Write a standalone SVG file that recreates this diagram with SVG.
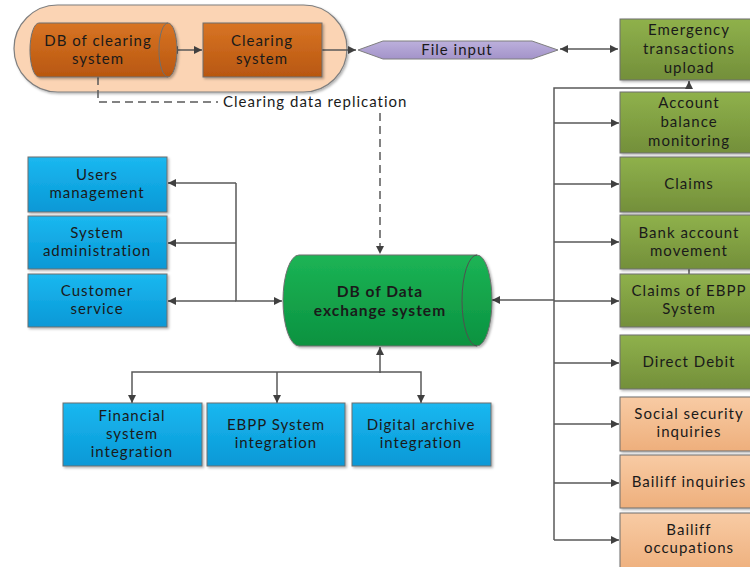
<svg xmlns="http://www.w3.org/2000/svg" width="750" height="567" viewBox="0 0 750 567">
<defs>
<linearGradient id="gBlue" x1="0" y1="0" x2="0" y2="1"><stop offset="0" stop-color="#1bb8f0"/><stop offset="1" stop-color="#0898d6"/></linearGradient>
<linearGradient id="gGreen" x1="0" y1="0" x2="0" y2="1"><stop offset="0" stop-color="#8fb14b"/><stop offset="1" stop-color="#738f3a"/></linearGradient>
<linearGradient id="gPeach" x1="0" y1="0" x2="0" y2="1"><stop offset="0" stop-color="#f8cba4"/><stop offset="1" stop-color="#eeaf7c"/></linearGradient>
<linearGradient id="gOrange" x1="0" y1="0" x2="0" y2="1"><stop offset="0" stop-color="#d87424"/><stop offset="1" stop-color="#b85710"/></linearGradient>
<linearGradient id="gDB" x1="0" y1="0" x2="0" y2="1"><stop offset="0" stop-color="#1cb455"/><stop offset="1" stop-color="#0b9240"/></linearGradient>
<linearGradient id="gPurple" x1="0" y1="0" x2="0" y2="1"><stop offset="0" stop-color="#bcb0dc"/><stop offset="1" stop-color="#a393c9"/></linearGradient>
<filter id="sh" x="-10%" y="-10%" width="130%" height="130%"><feDropShadow dx="1.5" dy="1.5" stdDeviation="1" flood-color="#000" flood-opacity="0.3"/></filter>
<marker id="ah" viewBox="0 0 10 10" refX="10" refY="5" markerWidth="9" markerHeight="8" markerUnits="userSpaceOnUse" orient="auto-start-reverse"><path d="M0,0 L10,5 L0,10 Z" fill="#404040"/></marker>
</defs>
<style>
.box{stroke:#6f6f6f;stroke-width:1;filter:url(#sh)}
.blue{fill:url(#gBlue)}
.green{fill:url(#gGreen)}
.peach{fill:url(#gPeach)}
.t{font-family:Lato,"Liberation Sans",sans-serif;font-size:15px;fill:#1a1a1a;text-anchor:middle;letter-spacing:1px}
.b{font-weight:bold;font-size:15.5px}
.c{fill:none;stroke:#595959;stroke-width:1.5}
.d{fill:none;stroke:#595959;stroke-width:1.5;stroke-dasharray:8,5}
</style>

<g id="clearing-group">
<rect x="14" y="5" width="333" height="87" rx="43.5" fill="#fbd4b4" stroke="#7f7f7f" stroke-width="1.2" filter="url(#sh)"/>
</g>

<g id="connectors">
<path class="c" d="M170,50 H202" marker-start="url(#ah)" marker-end="url(#ah)"/>
<path class="c" d="M322,50 H356" marker-end="url(#ah)"/>
<path class="c" d="M560,49 H618" marker-start="url(#ah)" marker-end="url(#ah)"/>
<path class="d" d="M98,77 V102 H218"/>
<path class="d" d="M380,113 V254" marker-end="url(#ah)"/>
<path class="c" d="M554,540 V88 H689 V81" marker-end="url(#ah)"/>
<path class="c" d="M554,123 H619" marker-end="url(#ah)"/>
<path class="c" d="M554,184 H619" marker-end="url(#ah)"/>
<path class="c" d="M554,242 H619" marker-end="url(#ah)"/>
<path class="c" d="M554,301 H619" marker-end="url(#ah)"/>
<path class="c" d="M554,363 H619" marker-end="url(#ah)"/>
<path class="c" d="M554,424 H619" marker-end="url(#ah)"/>
<path class="c" d="M554,483 H619" marker-end="url(#ah)"/>
<path class="c" d="M554,540 H619" marker-end="url(#ah)"/>
<path class="c" d="M689,269 V274"/>
<path class="c" d="M554,300 H478" marker-end="url(#ah)"/>
<path class="c" d="M500,300 H492" marker-end="url(#ah)"/>
<path class="c" d="M236,183 V301 H282" marker-end="url(#ah)"/>
<path class="c" d="M236,183 H168" marker-end="url(#ah)"/>
<path class="c" d="M236,243 H168" marker-end="url(#ah)"/>
<path class="c" d="M236,301 H168" marker-end="url(#ah)"/>
<path class="c" d="M380,373 V347" marker-end="url(#ah)"/>
<path class="c" d="M132,403 V372 H421 V403" marker-start="url(#ah)" marker-end="url(#ah)"/>
<path class="c" d="M277,372 V403" marker-end="url(#ah)"/>
<text class="t" x="223" y="107" style="text-anchor:start">Clearing data replication</text>
</g>

<g id="db-clearing">
<path d="M39,23 H168 A9,27 0 0 1 168,77 H39 A9,27 0 0 1 39,23 Z" fill="url(#gOrange)" stroke="#6f6f6f" stroke-width="1" filter="url(#sh)"/>
<path d="M168,23 A9,27 0 0 0 168,77" fill="none" stroke="#6f6f6f" stroke-width="1"/>
<text class="t" x="98" y="46">DB of clearing</text>
<text class="t" x="98" y="64">system</text>
</g>

<g id="clearing-system">
<rect class="box" x="203" y="23" width="119" height="54" fill="url(#gOrange)"/>
<text class="t" x="262" y="46">Clearing</text>
<text class="t" x="262" y="64">system</text>
</g>

<g id="file-input">
<polygon points="358,50 383,41 532,41 558,50 532,59 383,59" fill="url(#gPurple)" stroke="#7f7f7f" stroke-width="1"/>
<text class="t" x="457" y="55">File input</text>
</g>

<g id="db-exchange">
<path d="M299,255 H477 A15,45.5 0 0 1 477,346 H299 A16,45.5 0 0 1 299,255 Z" fill="url(#gDB)" stroke="#6f6f6f" stroke-width="1" filter="url(#sh)"/>
<path d="M477,255 A15,45.5 0 0 0 477,346" fill="none" stroke="#505050" stroke-width="1"/>
<text class="t b" x="380" y="297">DB of Data</text>
<text class="t b" x="380" y="316">exchange system</text>
</g>

<g id="users-management">
<rect class="box blue" x="28" y="157" width="139" height="55"/>
<text class="t" x="97" y="180">Users</text>
<text class="t" x="97" y="198">management</text>
</g>
<g id="system-administration">
<rect class="box blue" x="28" y="216" width="139" height="53"/>
<text class="t" x="97" y="238">System</text>
<text class="t" x="97" y="256">administration</text>
</g>
<g id="customer-service">
<rect class="box blue" x="28" y="274" width="139" height="53"/>
<text class="t" x="97" y="296">Customer</text>
<text class="t" x="97" y="314">service</text>
</g>

<g id="financial-system">
<rect class="box blue" x="63" y="403" width="139" height="63"/>
<text class="t" x="132" y="421">Financial</text>
<text class="t" x="132" y="439">system</text>
<text class="t" x="132" y="457">integration</text>
</g>
<g id="ebpp-integration">
<rect class="box blue" x="207" y="403" width="138" height="63"/>
<text class="t" x="276" y="430">EBPP System</text>
<text class="t" x="276" y="448">integration</text>
</g>
<g id="digital-archive">
<rect class="box blue" x="352" y="403" width="139" height="63"/>
<text class="t" x="421" y="430">Digital archive</text>
<text class="t" x="421" y="448">integration</text>
</g>

<g id="emergency">
<rect class="box green" x="620" y="19" width="135" height="61"/>
<text class="t" x="689" y="35">Emergency</text>
<text class="t" x="689" y="54">transactions</text>
<text class="t" x="689" y="73">upload</text>
</g>
<g id="account-balance">
<rect class="box green" x="620" y="92" width="135" height="61"/>
<text class="t" x="689" y="108">Account</text>
<text class="t" x="689" y="127">balance</text>
<text class="t" x="689" y="146">monitoring</text>
</g>
<g id="claims">
<rect class="box green" x="620" y="157" width="135" height="55"/>
<text class="t" x="689" y="189">Claims</text>
</g>
<g id="bank-account">
<rect class="box green" x="620" y="215" width="135" height="54"/>
<text class="t" x="689" y="238">Bank account</text>
<text class="t" x="689" y="256">movement</text>
</g>
<g id="claims-ebpp">
<rect class="box green" x="620" y="274" width="135" height="53"/>
<text class="t" x="689" y="296">Claims of EBPP</text>
<text class="t" x="689" y="314">System</text>
</g>
<g id="direct-debit">
<rect class="box green" x="620" y="335" width="135" height="54"/>
<text class="t" x="689" y="367">Direct Debit</text>
</g>
<g id="social-security">
<rect class="box peach" x="620" y="397" width="135" height="54"/>
<text class="t" x="689" y="419">Social security</text>
<text class="t" x="689" y="437">inquiries</text>
</g>
<g id="bailiff-inquiries">
<rect class="box peach" x="620" y="455" width="135" height="53"/>
<text class="t" x="689" y="487">Bailiff inquiries</text>
</g>
<g id="bailiff-occupations">
<rect class="box peach" x="620" y="513" width="135" height="60"/>
<text class="t" x="689" y="535">Bailiff</text>
<text class="t" x="689" y="553">occupations</text>
</g>
</svg>
